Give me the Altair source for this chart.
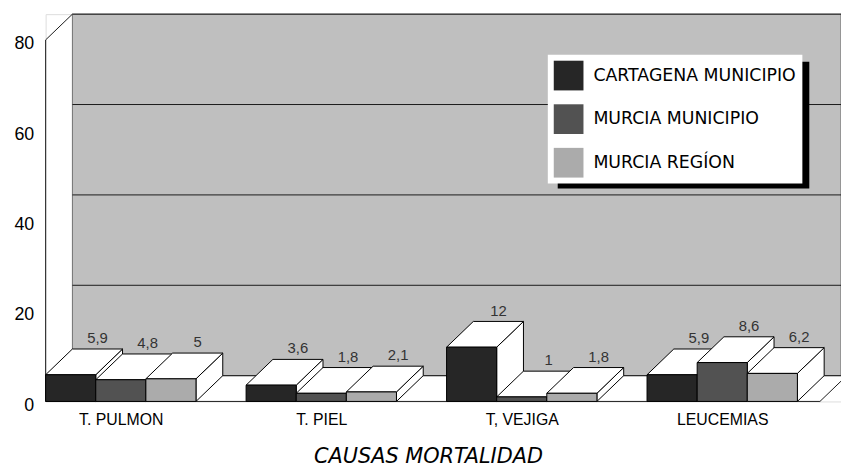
import altair as alt
import pandas as pd

# ---- data ----
categories = ["T. PULMON", "T. PIEL", "T, VEJIGA", "LEUCEMIAS"]
series = ["CARTAGENA MUNICIPIO", "MURCIA MUNICIPIO", "MURCIA REGÍON"]
cartagena = [5.9, 3.6, 12, 5.9]
murcia_municipio = [4.8, 1.8, 1, 8.6]
murcia_region = [5, 2.1, 1.8, 6.2]
y_ticks = [0, 20, 40, 60, 80]

# ---- pseudo-3D geometry (style) ----
DX = 0.534          # depth offset in bar-slot units
DY = 5.7            # depth offset in value units
XMAX = 15.87
YMAX = 80 + DY
FLOOR_END = 15.45
colors = ["#262626", "#525252", "#ababab"]

values = [cartagena, murcia_municipio, murcia_region]
rows = []
for g, cat in enumerate(categories):
    for s, name in enumerate(series):
        x0 = 4 * g + s
        rows.append(dict(cat=cat, serie=name, v=values[s][g], bar=g * 3 + s,
                         x0=x0, x1=x0 + 1, xl=x0 + 0.5 + DX, yl=values[s][g] + DY))
bars = pd.DataFrame(rows)

top_rows, side_rows = [], []
for r in rows:
    b, x0, x1, v = r["bar"], r["x0"], r["x1"], r["v"]
    top_pts = [(x0, v), (x1, v), (x1 + DX, v + DY), (x0 + DX, v + DY), (x0, v)]
    side_pts = [(x1, 0), (x1 + DX, DY), (x1 + DX, v + DY), (x1, v), (x1, 0)]
    for k, (px, py) in enumerate(top_pts):
        top_rows.append(dict(face=b, k=k, px=px, py=py))
    for k, (px, py) in enumerate(side_pts):
        side_rows.append(dict(face=b, k=k, px=px, py=py))
tops = pd.DataFrame(top_rows)
sides = pd.DataFrame(side_rows)

# frame segments (back-wall grid lines, floor edges, front axis line)
seg = []
for t in y_ticks[1:]:
    seg.append(dict(sx=DX, sx2=XMAX, sy=t + DY, sy2=t + DY))
seg.append(dict(sx=DX, sx2=XMAX, sy=DY, sy2=DY))
seg.append(dict(sx=0, sx2=FLOOR_END, sy=0, sy2=0))
seg.append(dict(sx=FLOOR_END, sx2=FLOOR_END + DX, sy=0, sy2=DY))
seg.append(dict(sx=0, sx2=0, sy=0, sy2=80))
seg.append(dict(sx=0, sx2=DX, sy=80, sy2=80 + DY))
segments = pd.DataFrame(seg)
wall_df = pd.DataFrame([dict(wx=DX, wx2=XMAX, wy=DY, wy2=80 + DY)])

xs = alt.Scale(domain=[0, XMAX], nice=False, zero=False)
ys = alt.Scale(domain=[0, YMAX], nice=False, zero=False)

label_array = "[" + ",".join('"%s"' % c for c in categories) + "]"
X_TITLE = "CAUSAS MORTALIDAD"
X_AXIS = alt.Axis(values=[4 * g + 1.5 for g in range(len(categories))],
                  labelExpr=label_array + "[round((datum.value-1.5)/4)]",
                  domain=False, ticks=False, grid=False,
                  labelFont="Liberation Sans", labelFontSize=16, labelColor="black",
                  labelPadding=10,
                  titleFont="DejaVu Sans", titleFontStyle="italic", titleFontWeight="normal",
                  titleFontSize=21, titleColor="black", titleX=386, titleY=56,
                  titleBaseline="middle", titleAlign="center")
Y_AXIS = alt.Axis(values=y_ticks, domain=False, ticks=False, grid=False,
                  labelFont="Liberation Sans", labelFontSize=18, labelColor="black",
                  labelPadding=12, labelOffset=4)


def X(field):
    return alt.X(field, type="quantitative", scale=xs, axis=X_AXIS, title=X_TITLE)


def Y(field):
    return alt.Y(field, type="quantitative", scale=ys, axis=Y_AXIS, title=None)


wall = alt.Chart(wall_df).mark_rect(fill="#bfbfbf", stroke="#555", strokeWidth=0.8).encode(
    x=X("wx"), x2="wx2:Q", y=Y("wy"), y2="wy2:Q",
)

frame = alt.Chart(segments).mark_rule(color="#1a1a1a", strokeWidth=1).encode(
    x=X("sx"), x2="sx2:Q", y=Y("sy"), y2="sy2:Q",
)

side_faces = alt.Chart(sides).mark_line(fill="white", stroke="black", strokeWidth=1,
                                        interpolate="linear").encode(
    x=X("px"), y=Y("py"), detail="face:N", order="k:Q",
)
top_faces = alt.Chart(tops).mark_line(fill="white", stroke="black", strokeWidth=1,
                                      interpolate="linear").encode(
    x=X("px"), y=Y("py"), detail="face:N", order="k:Q",
)
front_faces = alt.Chart(bars).mark_rect(stroke="black", strokeWidth=1).encode(
    x=X("x0"), x2="x1:Q", y=Y("v"), y2=alt.Y2(datum=0),
    fill=alt.Fill("serie:N", scale=alt.Scale(domain=series, range=colors),
                  legend=alt.Legend(title=None, orient="none", legendX=507, legendY=41,
                                    symbolType="square", symbolSize=900, symbolStrokeWidth=0,
                                    labelFont="DejaVu Sans", labelFontSize=17.5, labelColor="black",
                                    labelOffset=10, rowPadding=14, padding=6,
                                    fillColor="white", labelLimit=400)),
)
value_labels = alt.Chart(bars).transform_calculate(
    lab="replace(toString(datum.v), '.', ',')"
).mark_text(font="Liberation Sans", fontSize=15, color="#333", baseline="bottom", dy=-3).encode(
    x=X("xl"), y=Y("yl"), text="lab:N",
)
shadow = alt.Chart(pd.DataFrame({"a": [0]})).mark_rect(fill="black").encode(
    x=alt.value(517), x2=alt.value(771), y=alt.value(48), y2=alt.value(176),
)

chart = alt.layer(
    wall, frame, side_faces, top_faces, front_faces, value_labels, shadow,
).properties(
    width=803, height=391,
    padding={"left": 38, "top": 4, "right": 0, "bottom": 65},
    autosize=alt.AutoSizeParams(type="none"),
).configure_view(stroke=None).configure(background="white")

chart.save("out.html", embed_options={"renderer": "svg", "actions": False})
